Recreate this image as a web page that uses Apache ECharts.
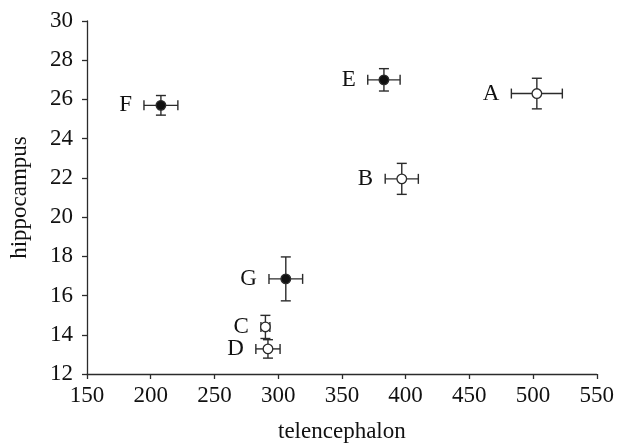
<!DOCTYPE html>
<html>
<head>
<meta charset="utf-8">
<script src="https://cdn.jsdelivr.net/npm/echarts@6/dist/echarts.min.js"></script>
<style>
  html, body { margin: 0; padding: 0; background: #fff; }
  #chart { width: 617px; height: 448px; }
</style>
</head>
<body>
<div id="chart"></div>
<script>
// species groups
const names = ["A", "B", "C", "D", "E", "F", "G"];
const telencephalon = [503, 397, 290, 292, 383, 208, 306];
const telencephalonErr = [20, 13, 3.5, 9.5, 12.7, 13.3, 13.2];
const hippocampus = [26.3, 21.95, 14.4, 13.28, 27.0, 25.7, 16.85];
const hippocampusErr = [0.78, 0.79, 0.59, 0.47, 0.57, 0.5, 1.12];
const filled = [false, false, false, false, true, true, true];

const FONT = "Liberation Serif";
const INK = "#2b2b2b";
const FS = 23;

const seriesData = names.map((n, i) => [
  telencephalon[i], hippocampus[i], telencephalonErr[i], hippocampusErr[i], filled[i] ? 1 : 0, i
]);

function renderItem(params, api) {
  const x = api.value(0), y = api.value(1);
  const ex = api.value(2), ey = api.value(3);
  const isFilled = api.value(4) === 1;
  const name = names[api.value(5)];
  const c = api.coord([x, y]);
  const l = api.coord([x - ex, y]);
  const r = api.coord([x + ex, y]);
  const t = api.coord([x, y + ey]);
  const b = api.coord([x, y - ey]);
  const cap = 5;
  const ls = { stroke: INK, lineWidth: 1.4 };
  return {
    type: "group",
    children: [
      { type: "line", shape: { x1: l[0], y1: l[1], x2: r[0], y2: r[1] }, style: ls },
      { type: "line", shape: { x1: t[0], y1: t[1], x2: b[0], y2: b[1] }, style: ls },
      { type: "line", shape: { x1: l[0], y1: l[1] - cap, x2: l[0], y2: l[1] + cap }, style: ls },
      { type: "line", shape: { x1: r[0], y1: r[1] - cap, x2: r[0], y2: r[1] + cap }, style: ls },
      { type: "line", shape: { x1: t[0] - cap, y1: t[1], x2: t[0] + cap, y2: t[1] }, style: ls },
      { type: "line", shape: { x1: b[0] - cap, y1: b[1], x2: b[0] + cap, y2: b[1] }, style: ls },
      {
        type: "circle",
        shape: { cx: c[0], cy: c[1], r: 4.8 },
        style: { fill: isFilled ? "#111" : "#fff", stroke: INK, lineWidth: 1.3 }
      },
      {
        type: "text",
        x: l[0] - 12,
        y: c[1],
        style: {
          text: name, fill: "#111", font: FS + "px " + FONT,
          align: "right", verticalAlign: "middle"
        }
      }
    ]
  };
}

const chart = echarts.init(document.getElementById("chart"), null, { renderer: "canvas" });
chart.setOption({
  animation: false,
  backgroundColor: "#fff",
  grid: { left: 86, right: 19, top: 21, bottom: 73, containLabel: false },
  xAxis: {
    type: "value",
    min: 150, max: 550, interval: 50,
    name: "telencephalon",
    nameLocation: "middle",
    nameGap: 46,
    nameTextStyle: { fontFamily: FONT, fontSize: FS, color: "#111" },
    axisLine: { lineStyle: { color: INK, width: 1.3 } },
    axisTick: { inside: false, length: 5, lineStyle: { color: INK, width: 1.3 } },
    axisLabel: { fontFamily: FONT, fontSize: FS, color: "#111", margin: 10 },
    splitLine: { show: false }
  },
  yAxis: {
    type: "value",
    min: 12, max: 30, interval: 2,
    name: "hippocampus",
    nameLocation: "middle",
    nameGap: 56,
    nameTextStyle: { fontFamily: FONT, fontSize: FS, color: "#111" },
    axisLine: { show: true, lineStyle: { color: INK, width: 1.3 } },
    axisTick: { show: true, inside: false, length: 5, lineStyle: { color: INK, width: 1.3 } },
    axisLabel: { fontFamily: FONT, fontSize: FS, color: "#111", margin: 14 },
    splitLine: { show: false }
  },
  series: [{
    type: "custom",
    renderItem: renderItem,
    data: seriesData,
    clip: false
  }]
});
</script>
</body>
</html>
